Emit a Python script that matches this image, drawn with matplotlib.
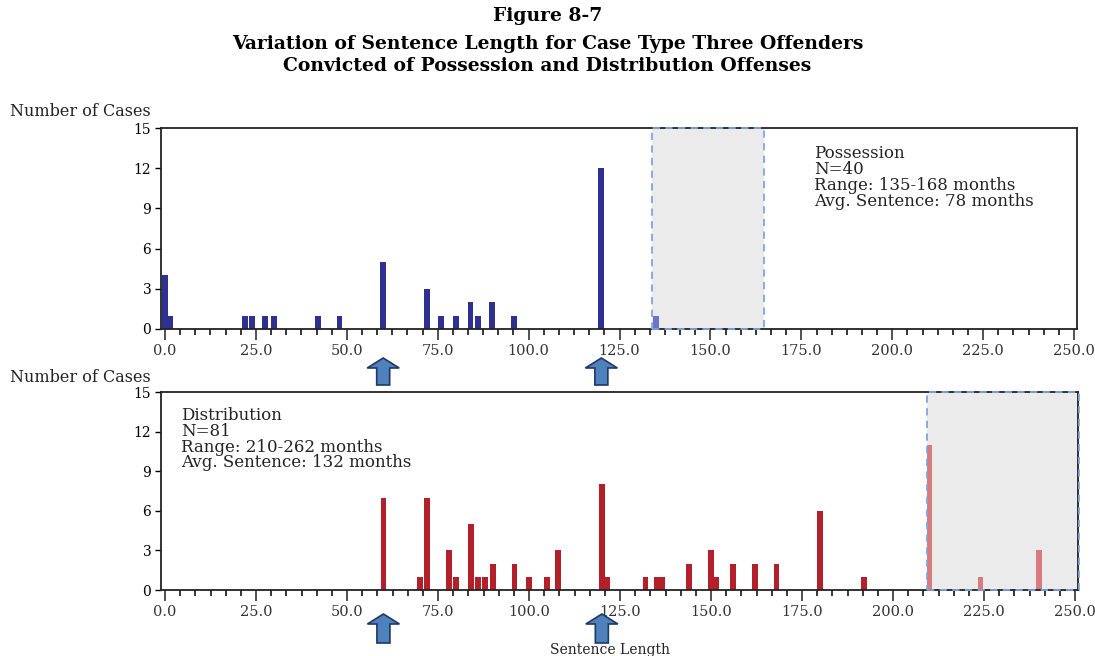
import numpy as np
import matplotlib
matplotlib.use("Agg")
import matplotlib.pyplot as plt
from matplotlib.patches import Polygon, Rectangle
from matplotlib.ticker import MultipleLocator, FixedLocator

# Possession offenders (top panel)
pos_months = [0, 1.5, 22, 24, 27.5, 30, 42, 48, 60, 72, 76, 80, 84, 86, 90, 96, 120, 135]
pos_counts = [4, 1, 1, 1, 1, 1, 1, 1, 5, 3, 1, 1, 2, 1, 2, 1, 12, 1]
pos_range = (134, 164.7)
pos_label = "Possession\nN=40\nRange: 135-168 months\nAvg. Sentence: 78 months"

# Distribution offenders (bottom panel)
dist_months = [60, 70, 72, 78, 80, 84, 86, 88, 90, 96, 100, 105, 108, 120, 121.5,
               132, 135, 136.5, 144, 150, 151.5, 156, 162, 168, 180, 192, 210, 224, 240]
dist_counts = [7, 1, 7, 3, 1, 5, 1, 1, 2, 2, 1, 1, 3, 8, 1,
               1, 1, 1, 2, 3, 1, 2, 2, 2, 6, 1, 11, 1, 3]
dist_range = (209.3, 251)
dist_label = "Distribution\nN=81\nRange: 210-262 months\nAvg. Sentence: 132 months"

arrow_months = [60, 120]
xticks = [0, 25, 50, 75, 100, 125, 150, 175, 200, 225, 250]
yticks = [0, 3, 6, 9, 12, 15]

W, H = 1095, 656
FONT = "DejaVu Serif"
plt.rcParams['font.family'] = FONT

fig = plt.figure(figsize=(W / 100, H / 100), dpi=100)


def px_axes(left, top, right, bottom):
    return [left / W, 1 - bottom / H, (right - left) / W, (bottom - top) / H]


ax1 = fig.add_axes(px_axes(161, 128, 1077, 329))
ax2 = fig.add_axes(px_axes(161, 392, 1078, 590))


def panel(ax, months, counts, rng, color, hl_color, label, lx, ly):
    months = np.array(months)
    counts = np.array(counts)
    inside = (months >= rng[0]) & (months <= rng[1])
    ax.add_patch(Rectangle((rng[0], 0), rng[1] - rng[0], 15, facecolor='#ebebeb',
                           edgecolor='none', zorder=0))
    ax.bar(months[~inside], counts[~inside], width=1.6, color=color, zorder=2)
    ax.bar(months[inside], counts[inside], width=1.6, color=hl_color, zorder=2)
    ax.add_patch(Rectangle((rng[0], 0), rng[1] - rng[0], 15, facecolor='none',
                           edgecolor='#7ea6e0', linestyle=(0, (4, 3)), lw=1.3,
                           zorder=5, clip_on=False))
    ax.set_xlim(-1.1, 250.8)
    ax.set_ylim(0, 15)
    ax.xaxis.set_major_locator(FixedLocator(xticks))
    ax.set_xticklabels([f"{t:.1f}" for t in xticks])
    ax.xaxis.set_minor_locator(MultipleLocator(25 / 6))
    ax.set_yticks(yticks)
    ax.tick_params(axis='x', which='major', length=8, width=1.1, pad=3,
                   labelsize=10.5, colors='#222222', labelcolor='#333333')
    ax.tick_params(axis='x', which='minor', length=4.5, width=1.1)
    ax.tick_params(axis='y', length=4, width=1.0, pad=3, labelsize=10)
    for s in ax.spines.values():
        s.set_linewidth(1.3)
        s.set_color('#222222')
    ax.text(lx, ly, label, fontsize=12, va='top', ha='left', linespacing=0.9,
            color='#222222')


panel(ax1, pos_months, pos_counts, pos_range, '#2e3192', '#6c73c9', pos_label, 178.5, 13.7)
panel(ax2, dist_months, dist_counts, dist_range, '#b3202a', '#d97a7f', dist_label, 4.3, 13.85)

fig.text(0.5, 1 - 16 / H, "Figure 8-7", ha='center', va='center', fontsize=13.5,
         fontweight='bold')
fig.text(0.5, 1 - 44 / H, "Variation of Sentence Length for Case Type Three Offenders",
         ha='center', va='center', fontsize=13.5, fontweight='bold')
fig.text(0.5, 1 - 66 / H, "Convicted of Possession and Distribution Offenses",
         ha='center', va='center', fontsize=13.5, fontweight='bold')
fig.text(10 / W, 1 - 112 / H, "Number of Cases", ha='left', va='center', fontsize=11.5,
         color='#222222')
fig.text(10 / W, 1 - 377 / H, "Number of Cases", ha='left', va='center', fontsize=11.5,
         color='#222222')
fig.text(610 / W, 1 - 650 / H, "Sentence Length", ha='center', va='center', fontsize=10,
         color='#222222')


def up_arrow(ax, xm, tip, base):
    cx = ax.transData.transform((xm, 0))[0]
    hw, sw, hh = 16, 6.5, 10
    pts = [(cx, tip), (cx + hw, tip + hh), (cx + sw, tip + hh), (cx + sw, base),
           (cx - sw, base), (cx - sw, tip + hh), (cx - hw, tip + hh)]
    pts = [(x / W, 1 - y / H) for x, y in pts]
    fig.add_artist(Polygon(pts, closed=True, transform=fig.transFigure,
                           facecolor='#4f81bd', edgecolor='#1f3864', lw=1.2))


for m in arrow_months:
    up_arrow(ax1, m, 358, 385)
    up_arrow(ax2, m, 614, 643)

fig.savefig("out.png", dpi=100)
